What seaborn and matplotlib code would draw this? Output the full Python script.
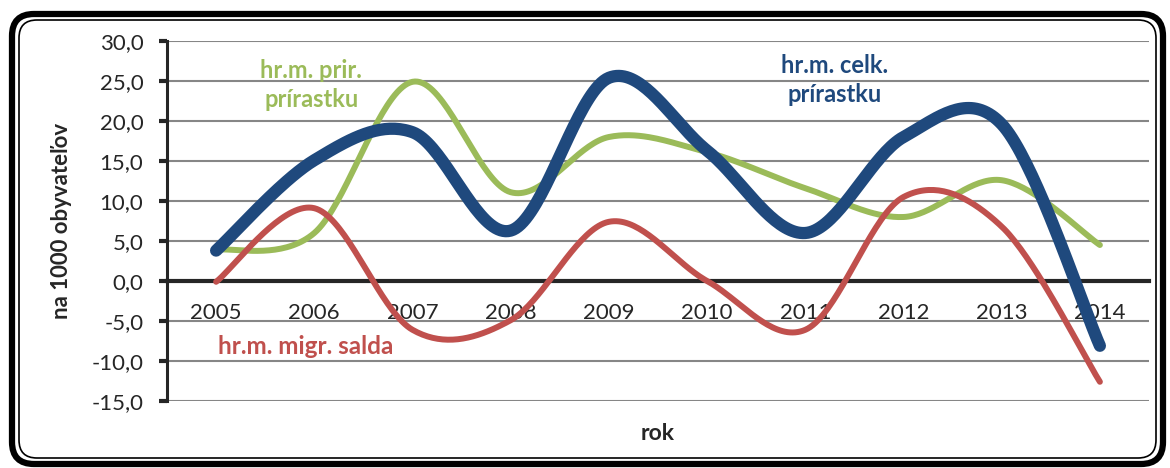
import numpy as np
import pandas as pd
import matplotlib
matplotlib.use('Agg')
import matplotlib.pyplot as plt
from matplotlib.patches import FancyBboxPatch
from matplotlib.ticker import FuncFormatter
import seaborn as sns

# values (per 1000 inhabitants)
years = ['2005', '2006', '2007', '2008', '2009', '2010', '2011', '2012', '2013', '2014']
prir = [3.9, 6.0, 24.9, 11.1, 18.0, 16.1, 11.6, 8.0, 12.6, 4.5]
migr = [-0.1, 9.1, -6.1, -4.9, 7.4, 0.0, -6.1, 10.5, 6.8, -12.6]
celk = [3.8, 15.1, 18.6, 6.3, 25.4, 16.3, 6.0, 18.0, 19.6, -8.1]

GREEN = '#9BBB59'
BLUE = '#1F497D'
RED = '#C0504D'


def smooth_path(values, steps=40):
    # Excel-like "smoothed line": cubic bezier through each point
    # (Catmull-Rom style control points), only for drawing
    p = np.column_stack([np.arange(len(values)), np.asarray(values, float)])
    xs, ys = [], []
    t = np.linspace(0, 1, steps)
    for i in range(len(p) - 1):
        p0 = p[i - 1] if i > 0 else p[i]
        p3 = p[i + 2] if i + 2 < len(p) else p[i + 1]
        c1 = p[i] + (p[i + 1] - p0) / 6
        c2 = p[i + 1] - (p3 - p[i]) / 6
        seg = ((1 - t)[:, None] ** 3 * p[i] + 3 * ((1 - t) ** 2 * t)[:, None] * c1
               + 3 * ((1 - t) * t ** 2)[:, None] * c2 + (t ** 3)[:, None] * p[i + 1])
        xs.extend(seg[:, 0])
        ys.extend(seg[:, 1])
    return pd.DataFrame({'x': xs, 'y': ys})


sns.set_style('white')
plt.rcParams['font.family'] = ['Lato', 'DejaVu Sans']

fig = plt.figure(figsize=(11.7, 4.68), dpi=100)
ax = fig.add_axes([167 / 1170, 67 / 468, 982 / 1170, 360 / 468])

for vals, col, lw, z in [(prir, GREEN, 4.3, 3), (migr, RED, 4.3, 4), (celk, BLUE, 8.8, 5)]:
    d = smooth_path(vals)
    sns.lineplot(data=d, x='x', y='y', ax=ax, color=col, lw=lw, sort=False,
                 estimator=None, zorder=z, solid_capstyle='round')

ax.set_xlim(-0.5, 9.5)
ax.set_ylim(-15, 30)
ax.set_yticks(np.arange(-15, 31, 5))
ax.yaxis.set_major_formatter(FuncFormatter(lambda v, _: f'{v:.1f}'.replace('.', ',')))
ax.grid(axis='y', color='#868686', lw=1.5, zorder=0)
ax.set_axisbelow(True)

# category axis crossing at zero, labels under the line
ax.spines['bottom'].set_position(('data', 0))
ax.spines['bottom'].set_linewidth(3)
ax.spines['left'].set_linewidth(2.2)
ax.spines['top'].set_visible(False)
ax.spines['right'].set_visible(False)
ax.set_xticks(np.arange(0.5, 10, 1))
ax.set_xticklabels([])
ax.set_xticks(np.arange(10), minor=True)
ax.set_xticklabels(years, minor=True)
ax.tick_params(axis='x', which='major', direction='out', length=6, width=3, color='black')
ax.tick_params(axis='x', which='minor', length=0, pad=16, labelsize=16)
ax.tick_params(axis='y', direction='out', length=6, width=3, pad=11, labelsize=16, left=True)

ax.set_xlabel('rok', fontsize=16.5, fontweight='bold')
ax.xaxis.set_label_coords(0.5, -0.06)
ax.set_ylabel('na 1000 obyvateľov', fontsize=16, fontweight='bold')
ax.yaxis.set_label_coords(-0.097, 0.5)

ax.text(0.97, 24.5, 'hr.m. prir.\nprírastku', color=GREEN, fontsize=17, fontweight='bold',
        ha='center', va='center', linespacing=1.3)
ax.text(6.30, 25.1, 'hr.m. celk.\nprírastku', color=BLUE, fontsize=17, fontweight='bold',
        ha='center', va='center', linespacing=1.3)
ax.text(0.91, -8.25, 'hr.m. migr. salda', color=RED, fontsize=17.5, fontweight='bold',
        ha='center', va='center')

# rounded double border around the chart
outer = FancyBboxPatch((0.12, 0.04), 11.51, 4.5, boxstyle='round,pad=0,rounding_size=0.22',
                       transform=fig.dpi_scale_trans, fill=False, ec='black', lw=4.5)
inner = FancyBboxPatch((0.19, 0.1), 11.37, 4.38, boxstyle='round,pad=0,rounding_size=0.18',
                       transform=fig.dpi_scale_trans, fill=False, ec='black', lw=1.2)
fig.patches.extend([outer, inner])

fig.savefig('out.png', dpi=100)
